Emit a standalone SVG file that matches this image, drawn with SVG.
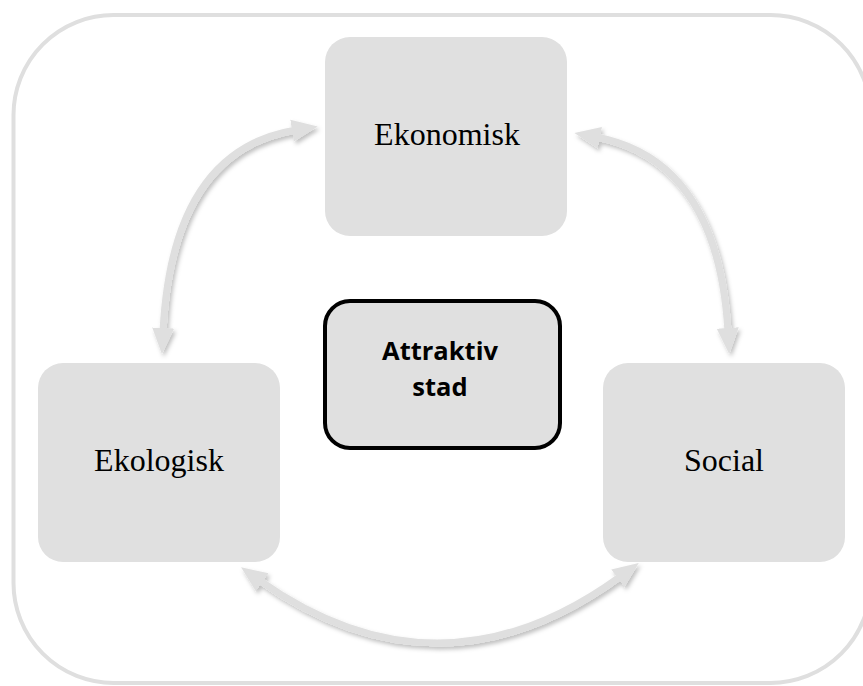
<svg xmlns="http://www.w3.org/2000/svg" width="863" height="686" viewBox="0 0 863 686">
<style>
.frame{fill:#ffffff;stroke:#dfdfdf;stroke-width:4}
.box{fill:#e0e0e0}
.center{fill:#e0e0e0;stroke:#000;stroke-width:4}
.lbl{font-family:"Liberation Serif","Times New Roman",serif;font-size:32px;fill:#000;text-anchor:middle}
.bold{font-family:"Open Sans","Liberation Sans",sans-serif;font-weight:bold;font-size:25.5px;fill:#000;text-anchor:middle}
.arr{fill:none;stroke:#dfdfdf;stroke-width:7;marker-start:url(#head);marker-end:url(#head)}
</style>
<defs>
<marker id="head" markerUnits="userSpaceOnUse" markerWidth="26" markerHeight="24" refX="4" refY="12" orient="auto-start-reverse" viewBox="0 0 26 24">
<path d="M0,1 L26,12 L0,23 Z" fill="#dfdfdf"/>
</marker>
<filter id="sh" x="-20%" y="-20%" width="140%" height="140%">
<feDropShadow dx="2" dy="3" stdDeviation="2" flood-color="#000" flood-opacity="0.25"/>
</filter>
</defs>
<rect class="frame" x="13.5" y="15" width="857" height="668" rx="100" ry="100"/>
<g id="connectors" filter="url(#sh)">
<path class="arr" d="M163,332 Q172,150 296,130"/>
<path class="arr" d="M596,137 Q718,160 728,332"/>
<path class="arr" d="M259,580 Q440,708 621,576"/>
</g>
<g id="ekonomisk">
<rect class="box" x="325" y="37" width="242" height="199" rx="25"/>
<text class="lbl" x="447" y="145">Ekonomisk</text>
</g>
<g id="ekologisk">
<rect class="box" x="38" y="363" width="242" height="199" rx="25"/>
<text class="lbl" x="159" y="471">Ekologisk</text>
</g>
<g id="social">
<rect class="box" x="603" y="363" width="242" height="199" rx="25"/>
<text class="lbl" x="724" y="471">Social</text>
</g>
<g id="attraktiv">
<rect class="center" x="325" y="301" width="235" height="147" rx="25"/>
<text class="bold" x="440" y="360">Attraktiv</text>
<text class="bold" x="440" y="396">stad</text>
</g>
</svg>
